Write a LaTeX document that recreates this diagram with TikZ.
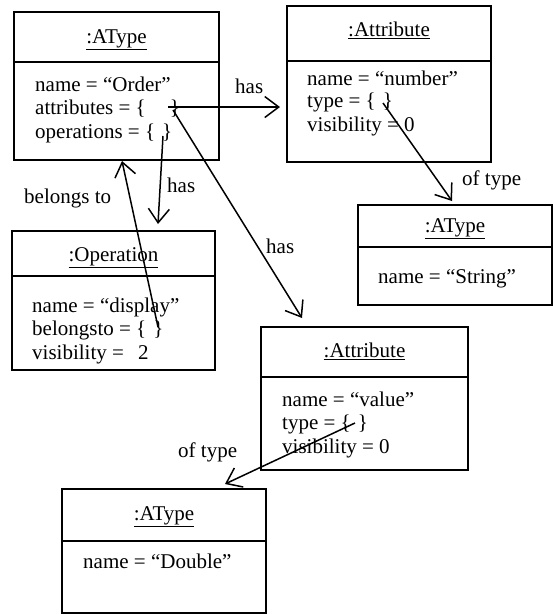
\documentclass[tikz,border=0pt]{standalone}
\usepackage{fontspec}
\setmainfont{Liberation Serif}
\usetikzlibrary{arrows.meta,calc}
\begin{document}
\begin{tikzpicture}[x=1pt,y=-1pt,
  boxpart/.style={draw, line width=1.9pt, anchor=north west, inner sep=0pt, outer sep=0pt},
  ttl/.style={anchor=base, inner sep=0pt, font=\fontsize{21}{24}\selectfont},
  txt/.style={anchor=base west, inner sep=0pt, font=\fontsize{21}{24}\selectfont},
  lbl/.style={anchor=base west, inner sep=0pt, font=\fontsize{21}{24}\selectfont},
  conn/.style={line width=1.5pt, -{Straight Barb[length=14pt,width=21pt,line width=1.5pt]}}
]
\useasboundingbox (0,0) rectangle (553,614);

% Box 1 :AType Order
\node[boxpart, minimum width=205pt, minimum height=50pt] (b1h) at (14,12) {};
\node[boxpart, minimum width=205pt, minimum height=98pt] (b1b) at (b1h.south west) {};
\node[ttl] (t1) at ($(b1h.north)+(0,31)$) {\underline{:AType}};
\node[txt] (l1a) at (35,91) {name = “Order”};
\node[txt] (l1b) at (35,114) {attributes = \{\hspace{24pt}\}};
\node[txt] (l1c) at (35,138) {operations = \{\hspace{7pt}\}};

% Box 2 :Attribute number
\node[boxpart, minimum width=204pt, minimum height=55pt] (b2h) at (287,6) {};
\node[boxpart, minimum width=204pt, minimum height=101pt] (b2b) at (b2h.south west) {};
\node[ttl] (t2) at ($(b2h.north)+(0,30)$) {\underline{:Attribute}};
\node[txt] (l2a) at (307,85) {name = “number”};
\node[txt] (l2b) at (307,107) {type = \{\hspace{7pt}\}};
\node[txt] (l2c) at (307,131) {visibility = 0};

% Box 3 :AType String
\node[boxpart, minimum width=194pt, minimum height=42pt] (b3h) at (358,205) {};
\node[boxpart, minimum width=194pt, minimum height=58pt] (b3b) at (b3h.south west) {};
\node[ttl] (t3) at ($(b3h.north)+(0,27)$) {\underline{:AType}};
\node[txt] (l3a) at (378,283) {name = “String”};

% Box 4 :Operation
\node[boxpart, minimum width=203pt, minimum height=45pt] (b4h) at (12,231) {};
\node[boxpart, minimum width=203pt, minimum height=94pt] (b4b) at (b4h.south west) {};
\node[ttl] (t4) at ($(b4h.north)+(0,30)$) {\underline{:Operation}};
\node[txt] (l4a) at (32,312) {name = “display”};
\node[txt] (l4b) at (32,335) {belongsto = \{\hspace{7pt}\}};
\node[txt] (l4c) at (32,359) {visibility = \hspace{9pt}2};

% Box 5 :Attribute value
\node[boxpart, minimum width=207pt, minimum height=50pt] (b5h) at (261,327) {};
\node[boxpart, minimum width=207pt, minimum height=93pt] (b5b) at (b5h.south west) {};
\node[ttl] (t5) at ($(b5h.north)+(0,30)$) {\underline{:Attribute}};
\node[txt] (l5a) at (282,406) {name = “value”};
\node[txt] (l5b) at (282,429) {type = \{\hspace{7pt}\}};
\node[txt] (l5c) at (282,453) {visibility = 0};

% Box 6 :AType Double
\node[boxpart, minimum width=204pt, minimum height=52pt] (b6h) at (62,489) {};
\node[boxpart, minimum width=204pt, minimum height=72pt] (b6b) at (b6h.south west) {};
\node[ttl] (t6) at ($(b6h.north)+(0,31)$) {\underline{:AType}};
\node[txt] (l6a) at (83,568) {name = “Double”};

% connector end points
\coordinate (s1) at (168,107); \coordinate (e1) at (280,107);
\coordinate (s2) at (173,110); \coordinate (e2) at (302,318);
\coordinate (s3) at (163,136); \coordinate (e3) at (158,224);
\coordinate (s4) at (158,327); \coordinate (e4) at (122,161);
\coordinate (s5) at (383,103); \coordinate (e5) at (452,201);
\coordinate (s6) at (355,423); \coordinate (e6) at (225,484);

\draw[conn] (s1) -- (e1);
\draw[conn] (s2) -- (e2);
\draw[conn] (s3) -- (e3);
\draw[conn] (s4) -- (e4);
\draw[conn] (s5) -- (e5);
\draw[conn] (s6) -- (e6);

% labels
\node[lbl] (h1) at (235,93) {has};
\node[lbl] (h2) at (167,192) {has};
\node[lbl] (bt) at (24,203) {belongs to};
\node[lbl] (h3) at (266,253) {has};
\node[lbl] (o1) at (462,185) {of type};
\node[lbl] (o2) at (178,457) {of type};
\end{tikzpicture}
\end{document}
